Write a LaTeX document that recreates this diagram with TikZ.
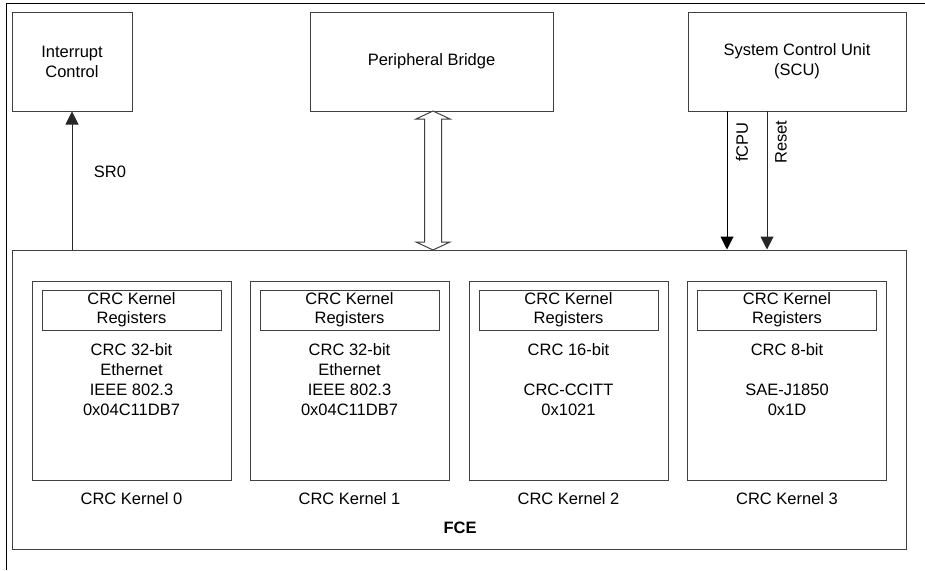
\documentclass[tikz,border=0pt]{standalone}
\usepackage{fontspec}
\setmainfont{Liberation Sans}
\usetikzlibrary{arrows.meta,positioning,calc}

\tikzset{fcebox/.style={rectangle,draw=black!75,line width=1pt,inner sep=0pt,align=center},
         fcetxt/.style={font=\fontsize{16.5}{20}\selectfont,align=center,inner sep=0pt},
         fcesig/.style={draw=black!85,line width=1pt,-{Triangle[length=13pt,width=13pt]}}}

\begin{document}
\begin{tikzpicture}[x=1pt,y=-1pt]
    \useasboundingbox (0,0) rectangle (925,570);
    \draw[line width=1pt] (6,570)--(6,3)--(925,3);
    % top blocks
    \node[fcebox,fcetxt,minimum width=120pt,minimum height=99pt] (intc) at (72,61.5) {Interrupt\\Control};
    \node[fcebox,fcetxt,minimum width=243pt,minimum height=99pt] (bridge) at (431.5,61.5) {Peripheral Bridge};
    \node[fcebox,fcetxt,minimum width=218pt,minimum height=99pt] (scu) at (797,61.5) {System Control Unit\\(SCU)};
    \node[fcebox,minimum width=894pt,minimum height=299pt] (fce) at (459,399.5) {};
    \node[fcetxt,font=\fontsize{16.5}{20}\selectfont\bfseries] (fcelab) at (460,528) {FCE};
    % kernels
    \foreach \x/\n/\txt in {131.5/0/{CRC 32-bit\\Ethernet\\IEEE 802.3\\0x04C11DB7},
                           349.5/1/{CRC 32-bit\\Ethernet\\IEEE 802.3\\0x04C11DB7},
                           568.5/2/{CRC 16-bit\\[20pt]CRC-CCITT\\0x1021},
                           787/3/{CRC 8-bit\\[20pt]SAE-J1850\\0x1D}}
      {\node[fcebox,minimum width=199pt,minimum height=199pt] (k\n) at (\x,380.5) {};
       \node[fcebox,fcetxt,font=\fontsize{16.5}{19}\selectfont,minimum width=179pt,minimum height=40pt] (r\n) at (\x,310) {CRC Kernel\\Registers};
       \node[fcetxt,anchor=north] (t\n) at (\x,343.5) {\txt};
       \node[fcetxt] (l\n) at (\x,499) {CRC Kernel \n};}
    % signals
    \draw[fcesig] (intc.south |- fce.north)--(intc.south);
    \node[fcetxt] (sr) at (110,172) {SR0};
    \coordinate (fcpu) at (727,111); \coordinate (rst) at (767,111);
    \draw[fcesig,draw=black] (fcpu)--(fcpu |- fce.north);
    \draw[fcesig] (rst)--(rst |- fce.north);
    \node[fcetxt,rotate=90] (fcpul) at (742,142) {fCPU};
    \node[fcetxt,rotate=90] (rstl) at (781,142) {Reset};
    % bus to bridge
    \coordinate (bt) at (433,111); \coordinate (bb) at (433,250);
    \draw[draw=black!75,line width=1pt,fill=white] (bt)--++(17,8)--++(-8.5,0)--($(bb)+(8.5,-8)$)--++(8.5,0)--(bb)
      --++(-17,-8)--++(8.5,0)--($(bt)+(-8.5,8)$)--++(-8.5,0)--cycle;
  \end{tikzpicture}
\end{document}
